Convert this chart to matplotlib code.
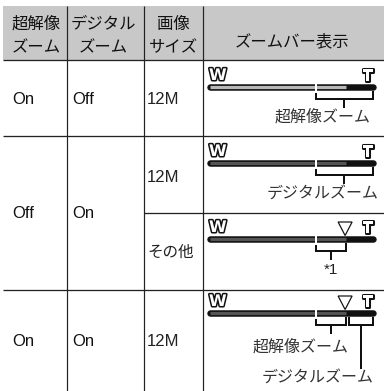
import matplotlib
matplotlib.use("Agg")
import matplotlib.pyplot as plt
from matplotlib.patches import Rectangle, Polygon
import matplotlib.patheffects as pe

# ---- table content ----
col_headers = ["超解像\nズーム", "デジタル\nズーム", "画像\nサイズ", "ズームバー表示"]
super_res = ["On", "Off", "On"]
digital = ["Off", "On", "On"]
image_size = ["12M", "12M", "その他", "12M"]

# zoom-bar content (fractions along the bar)
optical_end = 0.65       # white break in bar
sr_end = 0.835           # start of the black (top) segment
bar_light = [True, False, False, False]
bar_triangle = [False, False, True, True]
bar_brackets = [
    [(optical_end, 1.0, "超解像ズーム")],
    [(optical_end, 1.0, "デジタルズーム")],
    [(optical_end, sr_end, "*1")],
    [(optical_end, sr_end, "超解像ズーム"), (sr_end + 0.02, 1.0, "デジタルズーム")],
]

W, H = 384, 391
fig = plt.figure(figsize=(W / 100, H / 100), dpi=100)
ax = fig.add_axes([0, 0, 1, 1])
ax.set_xlim(0, W)
ax.set_ylim(H, 0)
ax.axis("off")

PX = 72 / 100  # points per pixel
JP = ["Noto Sans CJK JP", "DejaVu Sans"]
LAT = ["Liberation Sans", "Noto Sans CJK JP"]
lc = "#222222"

# header background
ax.add_patch(Rectangle((3, 6), W - 3, 54, facecolor="#c8c8c8", edgecolor="none"))

# grid lines
for x in [66.5, 143.5, 202.5]:
    ax.plot([x, x], [6, H], color=lc, lw=1.2 * PX, solid_capstyle="butt")
for y, x0 in [(60, 3), (136, 3), (213, 143.5), (290, 3)]:
    ax.plot([x0, W], [y, y], color=lc, lw=1.3 * PX, solid_capstyle="butt")

# header text
hx = [36, 103, 173, 292]
for i, t in enumerate(col_headers):
    if "\n" in t:
        a, b = t.split("\n")
        ax.text(hx[i], 24, a, family=JP, fontsize=11.8, ha="center", va="center", color="#111")
        ax.text(hx[i], 48, b, family=JP, fontsize=11.8, ha="center", va="center", color="#111")
    else:
        ax.text(hx[i], 42, t, family=JP, fontsize=11.8, ha="center", va="center", color="#111")

# body text
row_y = [99, 213, 342]
for i in range(3):
    ax.text(12, row_y[i], super_res[i], family=LAT, fontsize=12, ha="left", va="center", color="#111")
    ax.text(72, row_y[i], digital[i], family=LAT, fontsize=12, ha="left", va="center", color="#111")
size_y = [99, 177, 252, 342]
for i, t in enumerate(image_size):
    fs = 11.2 if t == "その他" else 12
    ax.text(147, size_y[i], t, family=LAT, fontsize=fs, ha="left", va="center", color="#222")

# zoom bars
bx0, bx1 = 210.0, 373.0
bar_y = [87, 163, 239, 313]


def fx(f):
    return bx0 + f * (bx1 - bx0)


outline = [pe.withStroke(linewidth=2.2, foreground="#111")]
for i, yb in enumerate(bar_y):
    ax.plot([bx0, bx1], [yb, yb], color="#111", lw=6.5 * PX, solid_capstyle="round", zorder=3)
    fill = "#b8b8b8" if bar_light[i] else "#555555"
    ax.plot([bx0, fx(sr_end)], [yb, yb], color=fill, lw=3.2 * PX, solid_capstyle="butt", zorder=4)
    # break in bar
    ax.add_patch(Rectangle((fx(optical_end) - 1.2, yb - 4.5), 2.4, 10,
                           facecolor="white", edgecolor="none", zorder=5))
    # W and T marks
    ax.text(bx0 - 1, yb - 4, "W", family="DejaVu Sans", weight="bold", fontsize=11.5,
            ha="left", va="bottom", color="white", path_effects=outline, zorder=6)
    ax.text(bx1 - 5, yb - 3, "T", family="DejaVu Sans", weight="bold", fontsize=11.5,
            ha="center", va="bottom", color="white", path_effects=outline, zorder=6)
    if bar_triangle[i]:
        xt = fx(sr_end) - 1
        ax.add_patch(Polygon([[xt - 7, yb - 17], [xt + 7, yb - 17], [xt, yb - 3.5]],
                             closed=True, facecolor="white", edgecolor="#111",
                             lw=1.2 * PX, zorder=6))
    # brackets
    for j, (s, e, lab) in enumerate(bar_brackets[i]):
        xs, xe = fx(s), fx(e)
        ytop, yh = yb + 5, yb + 12
        ax.plot([xs, xs, xe, xe], [ytop, yh, yh, ytop], color="#111", lw=2 * PX,
                solid_joinstyle="miter", zorder=3)
        xm = (xs + xe) / 2
        if len(bar_brackets[i]) == 2 and j == 1:
            ax.plot([xm, xm], [yh, yb + 55], color="#111", lw=2 * PX, zorder=3)
            ax.text(318, yb + 64, lab, family=JP, fontsize=11.5, ha="center", va="center", color="#333")
        elif len(bar_brackets[i]) == 2:
            ax.plot([xm, xm], [yh, yb + 20], color="#111", lw=2 * PX, zorder=3)
            ax.text(301, yb + 34, lab, family=JP, fontsize=11.5, ha="center", va="center", color="#333")
        else:
            ax.plot([xm, xm], [yh, yb + 20], color="#111", lw=2 * PX, zorder=3)
            if lab.startswith("*"):
                ax.text(xm, yb + 31, lab, family=LAT, fontsize=11, ha="center", va="center", color="#222")
            else:
                ax.text(xm - 22, yb + 30, lab, family=JP, fontsize=11.5, ha="center", va="center", color="#333")

fig.savefig("out.png", dpi=100)
